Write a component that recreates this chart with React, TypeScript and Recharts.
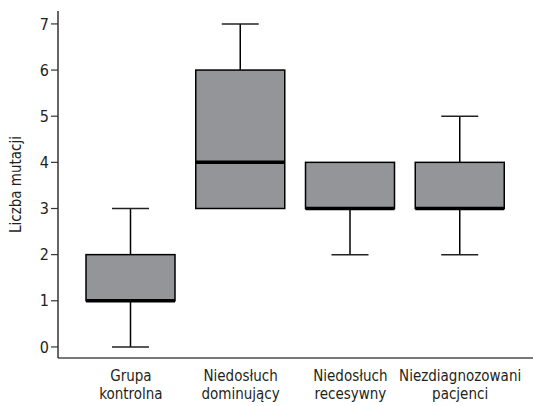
import { ComposedChart, Bar, XAxis, YAxis } from "recharts";

const groups = ["Grupa\nkontrolna", "Niedosłuch\ndominujący", "Niedosłuch\nrecesywny", "Niezdiagnozowani\npacjenci"];
const mins = [0, 3, 2, 2];
const q1s = [1, 3, 3, 3];
const medians = [1, 4, 3, 3];
const q3s = [2, 6, 4, 4];
const maxs = [3, 7, 4, 5];
const yTicks = [0, 1, 2, 3, 4, 5, 6, 7];

const data = groups.map((name, i) => ({
  name,
  min: mins[i],
  q1: q1s[i],
  median: medians[i],
  q3: q3s[i],
  max: maxs[i],
}));

const FONT = "'DejaVu Sans Condensed', 'Liberation Sans Narrow', sans-serif";

const BoxShape = (props: any) => {
  const { x, y, width, height, payload } = props;
  const { min, q1, median, q3, max } = payload;
  // pixels per unit from the bar's own [min, max] range
  const k = height / (max - min);
  const py = (v: number) => y + (max - v) * k;
  const cx = x + width / 2;
  const cap = 37;
  return (
    <g>
      <line x1={cx} x2={cx} y1={py(max)} y2={py(q3)} stroke="#000" strokeWidth={1.5} />
      <line x1={cx} x2={cx} y1={py(q1)} y2={py(min)} stroke="#000" strokeWidth={1.5} />
      {max > q3 && (
        <line x1={cx - cap / 2} x2={cx + cap / 2} y1={py(max)} y2={py(max)} stroke="#222" strokeWidth={1.5} />
      )}
      {min < q1 && (
        <line x1={cx - cap / 2} x2={cx + cap / 2} y1={py(min)} y2={py(min)} stroke="#222" strokeWidth={1.5} />
      )}
      <rect x={x} y={py(q3)} width={width} height={py(q1) - py(q3)} fill="#939598" stroke="#000" strokeWidth={1.5} />
      <line x1={x} x2={x + width} y1={py(median)} y2={py(median)} stroke="#000" strokeWidth={3.5} />
    </g>
  );
};

const XTick = (props: any) => {
  const { x, y, payload } = props;
  const lines = String(payload.value).split("\n");
  return (
    <g transform={`translate(${x},${y})`}>
      {lines.map((l, i) => (
        <text key={i} x={0} y={15 + i * 18} textAnchor="middle" fontSize={15} fill="#231f20" fontFamily={FONT}>
          {l}
        </text>
      ))}
    </g>
  );
};

export default function App() {
  return (
    <div style={{ position: "absolute", left: 0, top: 0, background: "#fff" }}>
      <ComposedChart width={533} height={406} data={data} margin={{ top: 11, right: 0, bottom: 0, left: 0 }} barSize={89}>
        <XAxis
          dataKey="name"
          xAxisId="bottom"
          height={48}
          padding={{ left: 18, right: 18 }}
          tick={<XTick />}
          tickLine={false}
          axisLine={{ stroke: "#4d4d4d", strokeWidth: 1.5 }}
          interval={0}
        />
        <XAxis
          dataKey="name"
          xAxisId="top"
          orientation="top"
          height={0}
          tick={false}
          tickLine={false}
          axisLine={{ stroke: "#555", strokeWidth: 2 }}
        />
        <YAxis
          width={58}
          domain={[-0.24, 7.28]}
          ticks={yTicks}
          allowDataOverflow
          tickSize={7}
          tickLine={{ stroke: "#333", strokeWidth: 1.2 }}
          axisLine={{ stroke: "#333", strokeWidth: 1.5 }}
          tick={{ fontSize: 16, fill: "#231f20", fontFamily: FONT }}
          label={{
            value: "Liczba mutacji",
            angle: -90,
            position: "insideLeft",
            offset: 16,
            style: { fontSize: 15, fill: "#231f20", fontFamily: FONT, textAnchor: "middle" },
          }}
        />
        <Bar
          xAxisId="bottom"
          dataKey={(d: any) => [d.min, d.max]}
          shape={<BoxShape />}
          isAnimationActive={false}
        />
      </ComposedChart>
    </div>
  );
}
